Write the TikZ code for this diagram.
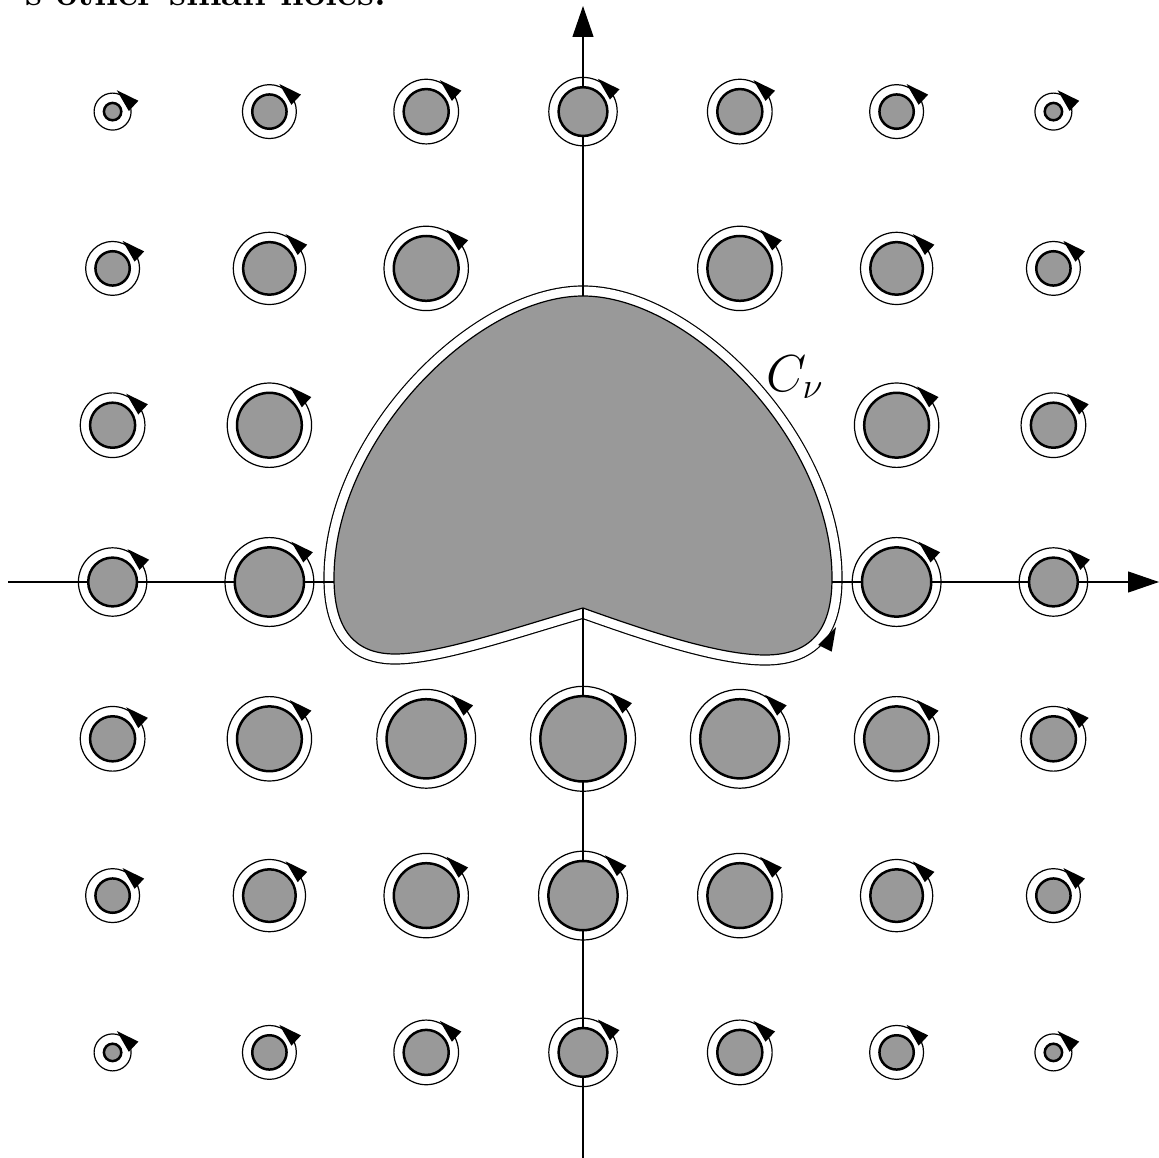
\RequirePackage{fix-cm}
\documentclass[tikz,border=0pt]{standalone}
\usetikzlibrary{arrows.meta}
\definecolor{holegray}{RGB}{153,153,153}
\begin{document}
\begin{tikzpicture}[x=1pt,y=-1pt,
  ringline/.style={draw=black,line width=1.2pt},
  holedisc/.style={fill=holegray,draw=black,line width=2.5pt},
  tipfill/.style={fill=black},
  axisline/.style={line width=1.2pt,-{Triangle[length=31pt,width=21pt]}}]
\useasboundingbox (0,0) rectangle (1159,1158);
\def\blob{(583,608) .. controls (650,632) and (720,655) .. (765,655) .. controls (815,655) and (832,625) .. (832,578) .. controls (832,440) and (690,296) .. (583,296) .. controls (476,296) and (334,440) .. (334,578) .. controls (334,630) and (355,654) .. (395,654) .. controls (440,654) and (520,626) .. (583,608) -- cycle}
% top text (clipped by the page edge, as in the reference)
\node[anchor=base west,inner sep=0,font=\bfseries\fontsize{38}{40}\selectfont] (caption) at (25,5.5) {s other small holes.};
% contour C_nu as offset of the blob
\draw[line width=21.2pt,black,line join=round] \blob;
\draw[line width=18.8pt,white,line join=round] \blob;
% axes
\coordinate (xs) at (8,582);
\coordinate (xe) at (1159,582);
\coordinate (ys) at (583,1158);
\coordinate (ye) at (583,6);
\draw[axisline] (xs) -- (xe);
\draw[axisline] (ys) -- (ye);
% big hole
\draw[fill=holegray,line width=1.2pt] \blob;
\fill[tipfill] (836,627) -- (831.7,651.7) -- (818.3,644.9) -- cycle;
\node[anchor=base west,inner sep=0,font=\fontsize{52}{60}\selectfont] (cnu) at (766,391) {$C_\nu$};
% small holes
\foreach \i/\j in {-3/3,-2/3,-1/3,0/3,1/3,2/3,3/3,
                   -3/2,-2/2,-1/2,1/2,2/2,3/2,
                   -3/1,-2/1,2/1,3/1,
                   -3/0,-2/0,2/0,3/0,
                   -3/-1,-2/-1,-1/-1,0/-1,1/-1,2/-1,3/-1,
                   -3/-2,-2/-2,-1/-2,0/-2,1/-2,2/-2,3/-2,
                   -3/-3,-2/-3,-1/-3,0/-3,1/-3,2/-3,3/-3}{
  \pgfmathsetmacro\d{sqrt(\i*\i+\j*\j)}
  \pgfmathsetmacro\r{48.6-4.84*\d-1.076*\d*\d}
  \pgfmathsetmacro\R{\r+9.8}
  \pgfmathsetmacro\cx{583+156.8*\i}
  \pgfmathsetmacro\cy{582-156.8*\j}
  \pgfmathsetmacro\px{\cx+\R*cos(47)}
  \pgfmathsetmacro\py{\cy-\R*sin(47)}
  \draw[ringline] (\cx,\cy) circle[radius=\R];
  \draw[holedisc] (\cx,\cy) circle[radius=\r];
  \fill[tipfill] (\px-8.41,\py-7.84) -- (\px+13.18,\py+2.72) -- (\px+3.64,\py+12.96) -- cycle;
}
\end{tikzpicture}
\end{document}
